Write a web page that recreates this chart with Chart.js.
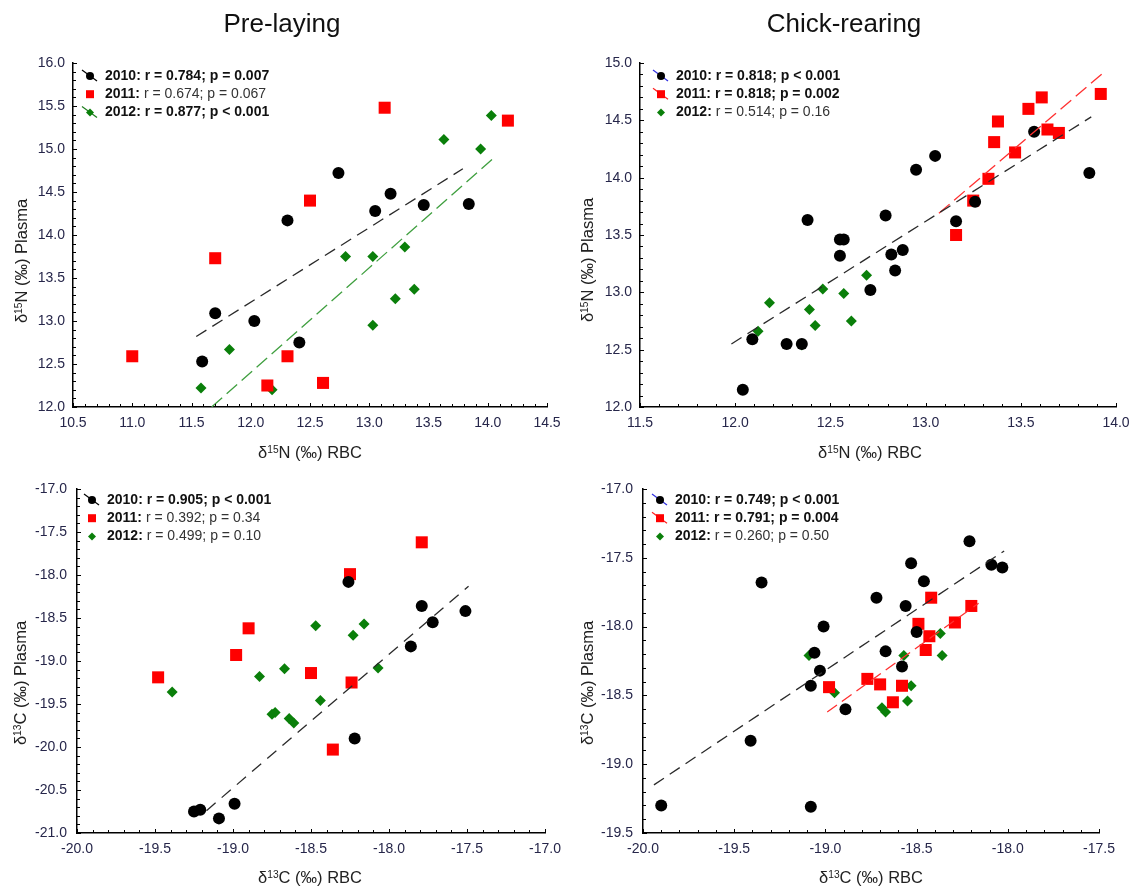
<!DOCTYPE html>
<html>
<head>
<meta charset="utf-8">
<script src="https://cdn.jsdelivr.net/npm/chart.js@4.4.0/dist/chart.umd.min.js"></script>
<style>
  body { margin: 0; background: #fff; font-family: "Liberation Sans", Arial, sans-serif; }
  #fig { position: relative; width: 1133px; height: 888px; overflow: hidden; }
  #fig canvas { position: absolute; left: 0; top: 0; }
  .title { position: absolute; transform: translate(-50%, -50%); font-size: 26px; line-height: 1; color: #111; white-space: nowrap; }
  .xt { position: absolute; transform: translate(-50%, -50%); font-size: 16.5px; line-height: 1; color: #222; white-space: nowrap; }
  .yt { position: absolute; transform: translate(-50%, -50%) rotate(-90deg); font-size: 16.5px; line-height: 1; color: #222; white-space: nowrap; }
  sup { font-size: 0.62em; vertical-align: 0.5em; line-height: 0; }
</style>
</head>
<body>
<div id="fig">
  <canvas id="preN" width="1133" height="888"></canvas>
  <canvas id="chickN" width="1133" height="888"></canvas>
  <canvas id="preC" width="1133" height="888"></canvas>
  <canvas id="chickC" width="1133" height="888"></canvas>

  <div class="title" style="left:282px; top:23px;">Pre-laying</div>
  <div class="title" style="left:844px; top:23px;">Chick-rearing</div>

  <div class="xt" style="left:310px; top:452px;">δ<sup>15</sup>N (‰) RBC</div>
  <div class="xt" style="left:870px; top:452px;">δ<sup>15</sup>N (‰) RBC</div>
  <div class="xt" style="left:310px; top:877px;">δ<sup>13</sup>C (‰) RBC</div>
  <div class="xt" style="left:871px; top:877px;">δ<sup>13</sup>C (‰) RBC</div>

  <div class="yt" style="left:21px; top:261px;">δ<sup>15</sup>N (‰) Plasma</div>
  <div class="yt" style="left:587px; top:260px;">δ<sup>15</sup>N (‰) Plasma</div>
  <div class="yt" style="left:20px; top:683px;">δ<sup>13</sup>C (‰) Plasma</div>
  <div class="yt" style="left:587px; top:683px;">δ<sup>13</sup>C (‰) Plasma</div>
</div>

<script>
// [RBC, plasma] pairs

// Pre-laying, nitrogen
const preN2010 = [[11.59,12.53],[11.70,13.09],[12.03,13.00],[12.31,14.17],[12.41,12.75],[12.74,14.72],[13.05,14.28],[13.18,14.48],[13.46,14.35],[13.84,14.36]];
const preN2011 = [[11.00,12.59],[11.70,13.73],[12.14,12.25],[12.31,12.59],[12.50,14.40],[12.61,12.28],[13.13,15.48],[14.17,15.33]];
const preN2012 = [[11.58,12.22],[11.82,12.67],[12.18,12.20],[12.80,13.75],[13.03,13.75],[13.03,12.95],[13.22,13.26],[13.30,13.86],[13.38,13.37],[13.63,15.11],[13.94,15.00],[14.03,15.39]];
const preNFit2010 = [[11.54,12.82],[13.79,14.77]];
const preNFit2012 = [[11.67,12.00],[14.07,14.92]];

// Chick-rearing, nitrogen
const chickN2010 = [[12.04,12.15],[12.09,12.59],[12.27,12.55],[12.35,12.55],[12.38,13.63],[12.55,13.46],[12.57,13.46],[12.55,13.32],[12.71,13.02],[12.79,13.67],[12.82,13.33],[12.84,13.19],[12.88,13.37],[12.95,14.07],[13.05,14.19],[13.16,13.62],[13.26,13.79],[13.57,14.40],[13.86,14.04]];
const chickN2011 = [[13.16,13.50],[13.25,13.80],[13.33,13.99],[13.36,14.31],[13.38,14.49],[13.47,14.22],[13.54,14.60],[13.61,14.70],[13.64,14.42],[13.70,14.39],[13.92,14.73]];
const chickN2012 = [[12.12,12.66],[12.18,12.91],[12.35,12.54],[12.39,12.85],[12.42,12.71],[12.46,13.03],[12.57,12.99],[12.61,12.75],[12.69,13.15]];
const chickNFit2010 = [[11.98,12.55],[13.87,14.53]];
const chickNFit2011 = [[13.07,13.69],[13.93,14.91]];

// Pre-laying, carbon
const preC2010 = [[-19.25,-20.75],[-19.21,-20.73],[-19.09,-20.83],[-18.99,-20.66],[-18.26,-18.08],[-18.22,-19.90],[-17.86,-18.83],[-17.79,-18.36],[-17.72,-18.55],[-17.51,-18.42]];
const preC2011 = [[-19.48,-19.19],[-18.98,-18.93],[-18.90,-18.62],[-18.50,-19.14],[-18.36,-20.03],[-18.25,-17.99],[-18.24,-19.25],[-17.79,-17.62]];
const preC2012 = [[-19.39,-19.36],[-18.83,-19.18],[-18.75,-19.62],[-18.73,-19.60],[-18.67,-19.09],[-18.64,-19.67],[-18.61,-19.72],[-18.47,-18.59],[-18.44,-19.46],[-18.23,-18.70],[-18.16,-18.57],[-18.07,-19.08]];
const preCFit2010 = [[-19.17,-20.74],[-17.49,-18.13]];

// Chick-rearing, carbon
const chickC2010 = [[-19.90,-19.30],[-19.41,-18.83],[-19.35,-17.68],[-19.08,-18.43],[-19.08,-19.31],[-19.06,-18.19],[-19.03,-18.32],[-19.01,-18.00],[-18.89,-18.60],[-18.72,-17.79],[-18.67,-18.18],[-18.58,-18.29],[-18.56,-17.85],[-18.53,-17.54],[-18.50,-18.04],[-18.46,-17.67],[-18.21,-17.38],[-18.09,-17.55],[-18.03,-17.57]];
const chickC2011 = [[-18.98,-18.44],[-18.77,-18.38],[-18.70,-18.42],[-18.63,-18.55],[-18.58,-18.43],[-18.49,-17.98],[-18.45,-18.17],[-18.43,-18.07],[-18.42,-17.79],[-18.29,-17.97],[-18.20,-17.85]];
const chickC2012 = [[-19.09,-18.21],[-18.95,-18.48],[-18.69,-18.59],[-18.67,-18.62],[-18.57,-18.21],[-18.55,-18.54],[-18.53,-18.43],[-18.37,-18.05],[-18.36,-18.21]];
const chickCFit2010 = [[-19.94,-19.15],[-18.02,-17.45]];
const chickCFit2011 = [[-18.99,-18.62],[-18.16,-17.83]];

// legend texts
const preNStats = ['r = 0.784; p = 0.007', 'r = 0.674; p = 0.067', 'r = 0.877; p < 0.001'];
const chickNStats = ['r = 0.818; p < 0.001', 'r = 0.818; p = 0.002', 'r = 0.514; p = 0.16'];
const preCStats = ['r = 0.905; p < 0.001', 'r = 0.392; p = 0.34', 'r = 0.499; p = 0.10'];
const chickCStats = ['r = 0.749; p < 0.001', 'r = 0.791; p = 0.004', 'r = 0.260; p = 0.50'];
const years = ['2010', '2011', '2012'];

const W = 1133, H = 888;
const COLORS = { 2010: '#000000', 2011: '#ff0000', 2012: '#0a7f0a' };
const toXY = arr => arr.map(p => ({ x: p[0], y: p[1] }));

function pointSet(data, year) {
    const styles = {
        2010: { pointStyle: 'circle', pointRadius: 6 },
        2011: { pointStyle: 'rect', pointRadius: 8.5 },
        2012: { pointStyle: 'rectRot', pointRadius: 5.5 }
    };
    return {
        data: toXY(data),
        showLine: false,
        pointStyle: styles[year].pointStyle,
        pointRadius: styles[year].pointRadius,
        pointHoverRadius: styles[year].pointRadius,
        pointBackgroundColor: COLORS[year],
        pointBorderWidth: 0,
        borderWidth: 0,
        order: 2
    };
}

function fitSet(data, color, dash) {
    return {
        data: toXY(data),
        showLine: true,
        borderColor: color,
        borderWidth: 1.3,
        borderDash: dash,
        pointRadius: 0,
        pointHoverRadius: 0,
        fill: false,
        order: 1
    };
}

function drawMarker(ctx, year, x, y) {
    ctx.fillStyle = COLORS[year];
    ctx.beginPath();
    if (year === '2010') {
        ctx.arc(x, y, 4, 0, Math.PI * 2);
    } else if (year === '2011') {
        ctx.rect(x - 4, y - 4, 8, 8);
    } else {
        ctx.moveTo(x, y - 4); ctx.lineTo(x + 4, y); ctx.lineTo(x, y + 4); ctx.lineTo(x - 4, y);
        ctx.closePath();
    }
    ctx.fill();
}

// minor ticks + the r / p legend
function decoPlugin(leg) {
    return {
        id: 'deco',
        afterDraw(chart) {
            const { ctx, chartArea: a, scales: { x, y } } = chart;
            ctx.save();
            ctx.strokeStyle = '#000';
            ctx.lineWidth = 1;
            const nx = Math.round((x.max - x.min) / 0.1);
            for (let i = 0; i <= nx; i++) {
                const px = Math.round(x.getPixelForValue(x.min + i * 0.1)) + 0.5;
                const len = i % 5 === 0 ? 4 : 3;
                ctx.beginPath(); ctx.moveTo(px, a.bottom); ctx.lineTo(px, a.bottom - len); ctx.stroke();
            }
            const ny = Math.round((y.max - y.min) / 0.1);
            for (let i = 0; i <= ny; i++) {
                const py = Math.round(y.getPixelForValue(y.min + i * 0.1)) + 0.5;
                const len = i % 5 === 0 ? 4 : 3;
                ctx.beginPath(); ctx.moveTo(a.left, py); ctx.lineTo(a.left + len, py); ctx.stroke();
            }

            ctx.textBaseline = 'middle';
            years.forEach((yr, i) => {
                const ry = leg.y + i * 18.2;
                const sx = leg.x - 15;
                if (leg.lines[i]) {
                    ctx.strokeStyle = leg.lines[i];
                    ctx.lineWidth = 1.2;
                    ctx.beginPath(); ctx.moveTo(sx - 8, ry - 6); ctx.lineTo(sx + 7, ry + 5); ctx.stroke();
                }
                drawMarker(ctx, yr, sx, ry);
                ctx.font = 'bold 14px "Liberation Sans", Arial, sans-serif';
                ctx.fillStyle = '#111';
                ctx.fillText(yr + ':', leg.x, ry);
                const w = ctx.measureText(yr + ': ').width;
                ctx.font = (leg.bold[i] ? 'bold ' : '') + '14px "Liberation Sans", Arial, sans-serif';
                ctx.fillStyle = leg.bold[i] ? '#111' : '#333';
                ctx.fillText(leg.stats[i], leg.x + w, ry);
            });
            ctx.restore();
        }
    };
}

function makeChart(id, p) {
    const [cl, cr, ct, cb] = p.area;
    const yW = 60, xH = 40;
    const tickFont = { family: '"Liberation Sans", Arial, sans-serif', size: 14 };
    new Chart(document.getElementById(id), {
        type: 'scatter',
        data: { datasets: p.datasets },
        options: {
            responsive: false,
            animation: false,
            devicePixelRatio: 1,
            layout: { padding: { left: cl - yW, right: W - cr, top: ct, bottom: H - cb - xH } },
            plugins: { legend: { display: false }, tooltip: { enabled: false } },
            scales: {
                x: {
                    type: 'linear',
                    min: p.xRange[0], max: p.xRange[1],
                    grid: { display: false, drawTicks: false },
                    border: { display: true, color: '#000', width: 1.5 },
                    ticks: { stepSize: 0.5, padding: 8, autoSkip: false, maxRotation: 0, color: '#26264a', font: tickFont,
                             callback: v => Number(v).toFixed(1) },
                    afterFit: s => { s.height = xH; s.paddingLeft = 0; s.paddingRight = 0; }
                },
                y: {
                    type: 'linear',
                    min: p.yRange[0], max: p.yRange[1],
                    grid: { display: false, drawTicks: false },
                    border: { display: true, color: '#000', width: 1.5 },
                    ticks: { stepSize: 0.5, padding: p.yPad, autoSkip: false, color: '#26264a', font: tickFont,
                             callback: v => Number(v).toFixed(1) },
                    afterFit: s => { s.width = yW; s.paddingTop = 0; s.paddingBottom = 0; }
                }
            }
        },
        plugins: [decoPlugin(p.legend)]
    });
}

makeChart('preN', {
    area: [73, 547, 63, 407], xRange: [10.5, 14.5], yRange: [12, 16], yPad: 8,
    datasets: [
        fitSet(preNFit2010, '#2a2a2a', [12, 7]),
        fitSet(preNFit2012, '#3f9f3f', [14, 6]),
        pointSet(preN2010, '2010'), pointSet(preN2011, '2011'), pointSet(preN2012, '2012')
    ],
    legend: { x: 105, y: 76, stats: preNStats, bold: [true, false, true], lines: ['#000', null, '#1d7d1d'] }
});

makeChart('chickN', {
    area: [640, 1116, 63, 407], xRange: [11.5, 14.0], yRange: [12, 15], yPad: 8,
    datasets: [
        fitSet(chickNFit2010, '#2a2a2a', [12, 7]),
        fitSet(chickNFit2011, '#ff3030', [14, 6]),
        pointSet(chickN2010, '2010'), pointSet(chickN2011, '2011'), pointSet(chickN2012, '2012')
    ],
    legend: { x: 676, y: 76, stats: chickNStats, bold: [true, true, false], lines: ['#3030e0', '#ff2020', null] }
});

makeChart('preC', {
    area: [77, 545, 489, 833], xRange: [-20, -17], yRange: [-21, -17], yPad: 10,
    datasets: [
        fitSet(preCFit2010, '#2a2a2a', [12, 8]),
        pointSet(preC2010, '2010'), pointSet(preC2011, '2011'), pointSet(preC2012, '2012')
    ],
    legend: { x: 107, y: 500, stats: preCStats, bold: [true, false, false], lines: ['#000', null, null] }
});

makeChart('chickC', {
    area: [643, 1099, 489, 833], xRange: [-20, -17.5], yRange: [-19.5, -17], yPad: 10,
    datasets: [
        fitSet(chickCFit2010, '#2a2a2a', [12, 7]),
        fitSet(chickCFit2011, '#ff3030', [12, 6]),
        pointSet(chickC2010, '2010'), pointSet(chickC2011, '2011'), pointSet(chickC2012, '2012')
    ],
    legend: { x: 675, y: 500, stats: chickCStats, bold: [true, true, false], lines: ['#3030e0', '#ff2020', null] }
});
</script>
</body>
</html>
